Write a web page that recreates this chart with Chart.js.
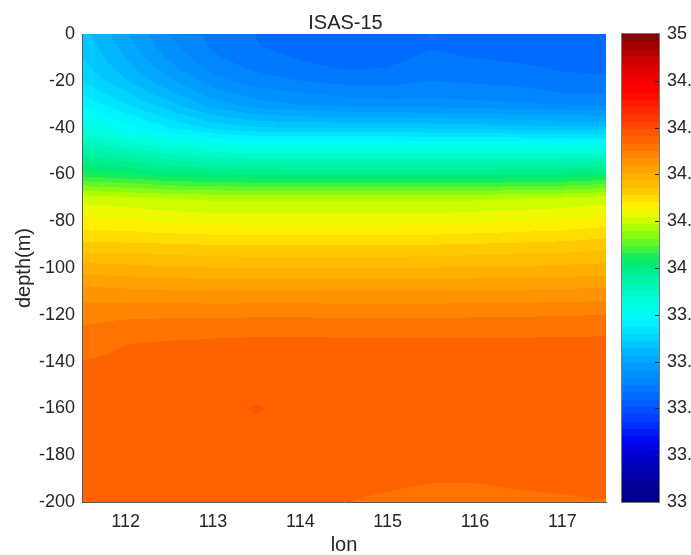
<!DOCTYPE html>
<html>
<head>
<meta charset="utf-8">
<title>ISAS-15</title>
<script src="https://cdn.jsdelivr.net/npm/chart.js@4.4.1/dist/chart.umd.min.js"></script>
<style>
  html, body { margin: 0; padding: 0; background: #fff; }
  #wrap { width: 691px; height: 555px; }
</style>
</head>
<body>
<div id="wrap"><canvas id="salinityChart" width="691" height="555"></canvas></div>
<script>
// Longitudes de la malla (grados E)
const lons = [111.5, 112, 112.5, 113, 113.5, 114, 114.5, 115, 115.5, 116, 116.5, 117, 117.5];
// Profundidades de la malla (m, negativas hacia abajo)
const depths = [0, -5, -10, -15, -20, -25, -30, -40, -50, -60, -70, -80, -90, -100,
                -110, -120, -130, -140, -150, -160, -170, -180, -190, -200];
// Salinidad: una fila por profundidad, una columna por longitud
const salinity = [
  [33.67, 33.60, 33.53, 33.49, 33.468, 33.455, 33.45, 33.455, 33.47, 33.458, 33.455, 33.455, 33.462],
  [33.68, 33.61, 33.54, 33.495, 33.47, 33.456, 33.45, 33.455, 33.465, 33.458, 33.455, 33.452, 33.455],
  [33.69, 33.625, 33.555, 33.505, 33.48, 33.466, 33.455, 33.46, 33.475, 33.468, 33.462, 33.458, 33.458],
  [33.70, 33.64, 33.575, 33.52, 33.495, 33.478, 33.468, 33.47, 33.485, 33.48, 33.475, 33.466, 33.463],
  [33.72, 33.66, 33.60, 33.545, 33.515, 33.50, 33.49, 33.49, 33.50, 33.495, 33.49, 33.48, 33.475],
  [33.745, 33.69, 33.63, 33.575, 33.545, 33.53, 33.52, 33.515, 33.52, 33.515, 33.51, 33.50, 33.495],
  [33.775, 33.72, 33.665, 33.61, 33.575, 33.56, 33.55, 33.545, 33.545, 33.54, 33.535, 33.53, 33.525],
  [33.85, 33.80, 33.75, 33.71, 33.69, 33.685, 33.685, 33.685, 33.68, 33.675, 33.67, 33.665, 33.665],
  [33.95, 33.92, 33.89, 33.87, 33.86, 33.86, 33.86, 33.86, 33.86, 33.86, 33.86, 33.86, 33.865],
  [34.05, 34.035, 34.015, 34.005, 34.0, 33.995, 33.995, 33.995, 33.995, 33.995, 34.0, 34.005, 34.02],
  [34.2, 34.195, 34.185, 34.18, 34.178, 34.178, 34.178, 34.178, 34.178, 34.18, 34.185, 34.19, 34.2],
  [34.26, 34.255, 34.245, 34.24, 34.24, 34.24, 34.24, 34.24, 34.24, 34.245, 34.25, 34.255, 34.265],
  [34.32, 34.318, 34.315, 34.312, 34.31, 34.31, 34.31, 34.31, 34.312, 34.315, 34.318, 34.322, 34.33],
  [34.39, 34.385, 34.38, 34.376, 34.375, 34.375, 34.375, 34.375, 34.376, 34.378, 34.38, 34.383, 34.387],
  [34.45, 34.445, 34.442, 34.44, 34.44, 34.44, 34.44, 34.44, 34.44, 34.441, 34.442, 34.444, 34.447],
  [34.49, 34.493, 34.495, 34.495, 34.496, 34.496, 34.495, 34.495, 34.495, 34.496, 34.497, 34.498, 34.5],
  [34.51, 34.528, 34.53, 34.531, 34.533, 34.533, 34.532, 34.532, 34.532, 34.532, 34.532, 34.533, 34.534],
  [34.532, 34.54, 34.542, 34.542, 34.543, 34.543, 34.542, 34.542, 34.542, 34.542, 34.542, 34.543, 34.544],
  [34.545, 34.548, 34.549, 34.55, 34.552, 34.55, 34.548, 34.548, 34.548, 34.548, 34.548, 34.548, 34.548],
  [34.55, 34.552, 34.553, 34.553, 34.565, 34.553, 34.552, 34.552, 34.552, 34.552, 34.552, 34.552, 34.552],
  [34.552, 34.553, 34.553, 34.553, 34.554, 34.553, 34.553, 34.553, 34.553, 34.553, 34.553, 34.553, 34.553],
  [34.55, 34.55, 34.55, 34.55, 34.55, 34.55, 34.55, 34.548, 34.545, 34.545, 34.547, 34.55, 34.55],
  [34.545, 34.545, 34.545, 34.545, 34.545, 34.543, 34.54, 34.538, 34.534, 34.534, 34.538, 34.54, 34.542],
  [34.54, 34.54, 34.54, 34.54, 34.54, 34.536, 34.532, 34.526, 34.52, 34.52, 34.524, 34.527, 34.53]
];
// Marcas de los ejes
const lonTicks = [112, 113, 114, 115, 116, 117];
const depthTicks = [0, -20, -40, -60, -80, -100, -120, -140, -160, -180, -200];
const colorbarTicks = [33, 33.2, 33.4, 33.6, 33.8, 34, 34.2, 34.4, 34.6, 34.8, 35];
const salMin = 33, salMax = 35, nColors = 64;

const FONT = '"Liberation Sans", Arial, Helvetica, sans-serif';
const TEXT = '#262626';

// Paleta tipo jet (tomada de la barra de color)
const jetStops = [
  [33.00, 0, 0, 128], [33.10, 0, 0, 165], [33.20, 0, 0, 205], [33.27, 0, 10, 245],
  [33.35, 0, 60, 255], [33.50, 0, 128, 255], [33.62, 0, 172, 255], [33.70, 0, 212, 255],
  [33.78, 0, 250, 255], [33.85, 0, 255, 225], [33.95, 0, 242, 165], [34.03, 0, 235, 110],
  [34.10, 90, 245, 40], [34.18, 180, 255, 0], [34.25, 255, 250, 0], [34.33, 255, 200, 0],
  [34.45, 255, 150, 0], [34.55, 255, 97, 0], [34.65, 255, 50, 0], [34.75, 255, 5, 0],
  [34.80, 245, 0, 0], [34.88, 210, 0, 0], [35.00, 128, 0, 0]
];
function stopColor(v) {
  for (let i = 0; i < jetStops.length - 1; i++) {
    const a = jetStops[i], b = jetStops[i + 1];
    if (v <= b[0]) {
      const t = Math.max(0, (v - a[0]) / (b[0] - a[0]));
      return [0, 1, 2].map(k => Math.round(a[k + 1] + (b[k + 1] - a[k + 1]) * t));
    }
  }
  const l = jetStops[jetStops.length - 1];
  return [l[1], l[2], l[3]];
}
const palette = [];
for (let k = 0; k < nColors; k++) {
  palette.push(stopColor(salMin + (k + 0.5) * (salMax - salMin) / nColors));
}
function levelOf(v) {
  let k = Math.floor((v - salMin) / (salMax - salMin) * nColors);
  return Math.min(nColors - 1, Math.max(0, k));
}

// Buscar el intervalo de la malla que contiene v
function locate(arr, v) {
  const n = arr.length;
  for (let i = 0; i < n - 1; i++) {
    const a = arr[i], b = arr[i + 1];
    if ((v - a) * (v - b) <= 0) return [i, (v - a) / (b - a)];
  }
  const asc = arr[n - 1] > arr[0];
  if ((v < arr[0]) === asc) return [0, 0];
  return [n - 2, 1];
}

// Relleno de contornos y barra de color
const fieldPlugin = {
  id: 'salinityField',
  beforeDraw(chart) {
    const { ctx, chartArea: area, scales: { x, y, cb } } = chart;
    ctx.save();
    ctx.fillStyle = '#fff';
    ctx.fillRect(0, 0, chart.width, chart.height);

    const left = Math.round(area.left), top = Math.round(area.top);
    const w = Math.round(area.right) - left, h = Math.round(area.bottom) - top;
    const img = ctx.createImageData(w, h);
    const cols = [];
    for (let i = 0; i < w; i++) cols.push(locate(lons, x.getValueForPixel(left + i + 0.5)));
    for (let j = 0; j < h; j++) {
      const [r, ty] = locate(depths, y.getValueForPixel(top + j + 0.5));
      const row0 = salinity[r], row1 = salinity[r + 1];
      for (let i = 0; i < w; i++) {
        const [c, tx] = cols[i];
        const top0 = row0[c] + (row0[c + 1] - row0[c]) * tx;
        const bot0 = row1[c] + (row1[c + 1] - row1[c]) * tx;
        const v = top0 + (bot0 - top0) * ty;
        const col = palette[levelOf(v)];
        const p = (j * w + i) * 4;
        img.data[p] = col[0]; img.data[p + 1] = col[1]; img.data[p + 2] = col[2]; img.data[p + 3] = 255;
      }
    }
    ctx.putImageData(img, left, top);

    // Barra de color
    const cbLeft = Math.round(area.right) + 16, cbRight = Math.round(area.right) + 53;
    const step = (salMax - salMin) / nColors;
    for (let k = 0; k < nColors; k++) {
      const y0 = Math.round(cb.getPixelForValue(salMin + k * step));
      const y1 = Math.round(cb.getPixelForValue(salMin + (k + 1) * step));
      const col = palette[k];
      ctx.fillStyle = 'rgb(' + col.join(',') + ')';
      ctx.fillRect(cbLeft, y1, cbRight - cbLeft, y0 - y1);
    }
    const cbTop = Math.round(cb.getPixelForValue(salMax)), cbBottom = Math.round(cb.getPixelForValue(salMin));
    ctx.strokeStyle = '#7a7a7a';
    ctx.lineWidth = 1;
    ctx.strokeRect(cbLeft - 0.5, cbTop - 0.5, cbRight - cbLeft + 1, cbBottom - cbTop + 1);
    ctx.strokeStyle = TEXT;
    ctx.beginPath();
    colorbarTicks.slice(1, -1).forEach(v => {
      const py = Math.round(cb.getPixelForValue(v)) + 0.5;
      ctx.moveTo(cbRight - 4, py);
      ctx.lineTo(cbRight, py);
    });
    ctx.stroke();
    ctx.restore();
  }
};

// Nodos de la malla como conjunto de datos
const gridPoints = [];
depths.forEach(d => lons.forEach(l => gridPoints.push({ x: l, y: d })));

const ctx = document.getElementById('salinityChart').getContext('2d');
window.salinityChart = new Chart(ctx, {
  type: 'scatter',
  data: {
    datasets: [{
      label: 'salinity',
      data: gridPoints,
      pointRadius: 0,
      pointHoverRadius: 0
    }]
  },
  options: {
    responsive: false,
    devicePixelRatio: 1,
    animation: false,
    events: [],
    layout: { padding: 0 },
    plugins: {
      legend: { display: false },
      tooltip: { enabled: false },
      title: {
        display: true,
        text: 'ISAS-15',
        color: TEXT,
        font: { family: FONT, size: 20, weight: 'normal', lineHeight: 1 },
        padding: { top: 13.5, bottom: 0.5 }
      }
    },
    scales: {
      x: {
        type: 'linear',
        min: 111.5,
        max: 117.5,
        grid: { display: false, drawTicks: false },
        border: { display: true, color: '#5a5a5a', width: 1 },
        afterBuildTicks: s => { s.ticks = lonTicks.map(v => ({ value: v })); },
        afterFit: s => { s.height = 53; },
        ticks: {
          padding: 9,
          color: TEXT,
          font: { family: FONT, size: 18 },
          maxRotation: 0,
          callback: v => String(v)
        },
        title: {
          display: true,
          text: 'lon',
          color: TEXT,
          font: { family: FONT, size: 20, lineHeight: 1 },
          padding: { top: 0, bottom: 0 }
        }
      },
      y: {
        type: 'linear',
        position: 'left',
        min: -200,
        max: 0,
        grid: { display: false, drawTicks: false },
        border: { display: true, color: '#5a5a5a', width: 1 },
        afterBuildTicks: s => { s.ticks = depthTicks.map(v => ({ value: v })); },
        afterFit: s => { s.width = 82; },
        ticks: {
          padding: 7,
          color: TEXT,
          font: { family: FONT, size: 18 },
          callback: v => String(v)
        },
        title: {
          display: true,
          text: 'depth(m)',
          color: TEXT,
          font: { family: FONT, size: 20, lineHeight: 1.2 },
          padding: { top: 12, bottom: 0 }
        }
      },
      cb: {
        type: 'linear',
        axis: 'y',
        position: 'right',
        min: salMin,
        max: salMax,
        // las marcas se dibujan en el plugin; tickLength solo separa las etiquetas
        grid: { display: false, drawTicks: true, tickLength: 61 },
        border: { display: false },
        afterBuildTicks: s => { s.ticks = colorbarTicks.map(v => ({ value: v })); },
        afterFit: s => { s.width = 85; },
        ticks: {
          padding: 0,
          color: TEXT,
          font: { family: FONT, size: 18 },
          callback: v => String(Math.round(v * 10) / 10)
        }
      }
    }
  },
  plugins: [fieldPlugin]
});
</script>
</body>
</html>
